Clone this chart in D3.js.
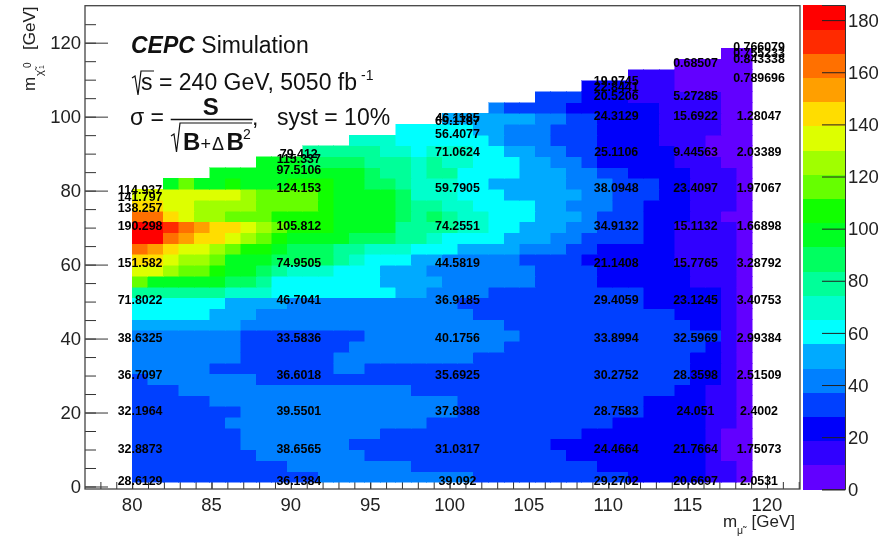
<!DOCTYPE html>
<html><head><meta charset="utf-8">
<script src="https://cdnjs.cloudflare.com/ajax/libs/d3/7.8.5/d3.min.js"></script>
<style>
html,body{margin:0;padding:0;background:#fff}
svg{display:block;font-family:"Liberation Sans",Arial,sans-serif;filter:blur(0.45px)}
</style></head><body>
<svg id="c" width="889" height="538"></svg>
<script>
// colour bands, low to high
const palette = ["#6200ff","#3000ff","#0000fa","#0040ff","#0080ff","#00aaff","#00ffff","#00ffcc","#00ff99","#00ff60",
                 "#00ff22","#11ff00","#66ff00","#a0ff00","#ddff00","#ffdd00","#ff9f00","#ff7000","#ff2a00","#ff0000"];
const zMax = 185.8;
const zTicks = [0,20,40,60,80,100,120,140,160,180];
const xMajor = [80,85,90,95,100,105,110,115,120];
const yMajor = [0,20,40,60,80,100,120];
// heat map rows, bottom to top: runs of [last column, z]; null = empty
const zRows = [
[[11,33],[21,42],[31,33],[36,23],[38,14],[39,5]],
[[9,33],[17,42],[29,33],[36,23],[38,14],[39,5]],
[[7,33],[14,42],[27,33],[36,23],[37,14],[39,5]],
[[6,33],[13,42],[26,33],[36,23],[37,14],[39,5]],
[[6,33],[15,42],[28,33],[36,23],[37,14],[39,5]],
[[5,33],[18,42],[30,33],[36,23],[38,14],[39,5]],
[[6,33],[20,42],[32,33],[36,23],[38,14],[39,5]],
[[4,33],[20,42],[32,33],[36,23],[38,14],[39,5]],
[[2,33],[17,42],[34,33],[36,23],[38,14],[39,5]],
[[0,33],[7,42],[35,33],[37,23],[38,14],[39,5]],
[[4,42],[12,33],[14,42],[35,33],[37,23],[38,14],[39,5]],
[[6,42],[12,33],[21,42],[35,33],[37,23],[38,14],[39,5]],
[[6,42],[13,33],[23,42],[36,33],[37,23],[38,14],[39,5]],
[[6,42],[14,33],[24,42],[37,33],[38,14],[39,5]],
[[6,51],[23,42],[35,33],[37,23],[38,14],[39,5]],
[[4,60],[7,51],[21,42],[34,33],[37,23],[38,14],[39,5]],
[[5,60],[9,51],[20,42],[32,33],[37,23],[38,14],[39,5]],
[[5,79],[8,70],[16,60],[18,51],[22,42],[32,33],[37,23],[38,14],[39,5]],
[[0,116],[5,98],[7,88],[8,79],[15,60],[19,51],[25,42],[29,33],[35,23],[38,14],[39,5]],
[[1,135],[2,126],[4,116],[5,107],[7,98],[8,88],[9,79],[12,70],[15,60],[18,51],[25,42],[29,33],[35,23],[38,14],[39,5]],
[[1,144],[2,135],[4,126],[5,116],[8,98],[12,88],[13,79],[14,70],[17,60],[19,51],[24,42],[28,33],[34,23],[38,14],[39,5]],
[[0,163],[1,153],[2,144],[4,135],[5,126],[6,116],[8,107],[9,98],[12,88],[14,79],[17,70],[20,60],[24,51],[27,42],[29,33],[34,23],[38,14],[39,5]],
[[1,181],[2,163],[3,153],[5,144],[6,135],[7,126],[8,116],[9,107],[13,98],[16,88],[18,79],[19,70],[23,60],[26,51],[28,42],[32,33],[34,23],[38,14],[39,5]],
[[1,181],[2,172],[3,163],[4,153],[6,144],[7,135],[8,126],[9,116],[12,107],[16,98],[20,79],[22,70],[24,60],[27,51],[29,42],[32,33],[34,23],[38,14],[39,5]],
[[1,163],[2,144],[3,135],[5,126],[8,116],[12,107],[16,98],[17,88],[18,79],[19,88],[20,79],[22,70],[25,60],[28,51],[29,42],[32,33],[35,23],[37,14],[39,5]],
[[1,144],[3,135],[7,126],[11,116],[12,107],[16,98],[17,88],[19,79],[21,70],[25,60],[27,51],[30,42],[32,33],[35,23],[38,14],[39,5]],
[[6,135],[7,126],[11,116],[12,107],[16,98],[17,88],[20,70],[23,60],[28,51],[30,42],[33,33],[35,23],[38,14],[39,5]],
[[1,null],[2,98],[3,116],[5,98],[6,107],[9,98],[12,107],[14,98],[16,88],[17,79],[20,70],[22,60],[27,51],[30,42],[33,33],[35,23],[38,14],[39,5]],
[[4,null],[14,98],[15,88],[17,79],[18,70],[20,79],[24,60],[27,51],[29,42],[31,33],[35,23],[38,14],[39,5]],
[[7,null],[10,98],[14,88],[17,79],[18,70],[19,79],[21,70],[24,60],[26,51],[28,42],[29,33],[34,23],[37,14],[39,5]],
[[10,null],[15,79],[17,70],[18,60],[21,70],[23,60],[25,51],[27,42],[29,33],[34,23],[36,14],[39,5]],
[[13,null],[16,70],[22,60],[23,51],[26,42],[29,33],[33,23],[36,14],[39,5]],
[[16,null],[21,60],[23,51],[26,42],[29,33],[33,23],[37,14],[39,5]],
[[19,null],[25,51],[27,42],[29,33],[33,23],[37,14],[39,5]],
[[22,null],[23,42],[27,33],[33,23],[37,14],[39,5]],
[[25,null],[28,33],[31,23],[37,14],[39,5]],
[[28,null],[31,23],[34,14],[39,5]],
[[31,null],[34,14],[39,5]],
[[34,null],[39,5]],
[[37,null],[39,5]]
];
const colStart = 80, colWidth = 0.977, rowStart = 1.1, rowHeight = 2.935;
// printed significance values: x of each column of labels, then y and text
const labelX = [80.5,90.5,100.5,110.5,115.5,119.5];
const labelY = [
 [1.5,10.3,20.5,30.2,40.2,50.4,60.5,70.5,75.5,78.4,80.2],
 [1.5,10.3,20.5,30.2,40.2,50.4,60.5,70.5,80.7,85.6,88.7,89.9],
 [1.5,10.3,20.5,30.2,40.2,50.4,60.5,70.5,80.7,90.4,95.5,98.9,99.6],
 [1.5,10.3,20.5,30.2,40.2,50.4,60.5,70.5,80.7,90.4,100.3,105.6,108.1,109.7],
 [1.5,10.3,20.5,30.2,40.2,50.4,60.5,70.5,80.7,90.4,100.3,105.6,114.7],
 [1.5,10.3,20.5,30.2,40.2,50.4,60.5,70.5,80.7,90.4,100.3,110.4,115.6,117.2,119]
];
const labelText = [
 ["28.6129","32.8873","32.1964","36.7097","38.6325","71.8022","151.582","190.298","138.257","141.797","114.937"],
 ["36.1384","38.6565","39.5501","36.6018","33.5836","46.7041","74.9505","105.812","124.153","97.5106","115.337","79.412"],
 ["39.092","31.0317","37.8388","35.6925","40.1756","36.9185","44.5819","74.2551","59.7905","71.0624","56.4077","69.1787","46.1185"],
 ["29.2702","24.4664","28.7583","30.2752","33.8994","29.4059","21.1408","34.9132","38.0948","25.1106","24.3129","20.5206","22.8441","19.9745"],
 ["20.6697","21.7664","24.051","28.3598","32.5969","23.1245","15.7765","15.1132","23.4097","9.44563","15.6922","5.27285","0.68507"],
 ["2.0531","1.75073","2.4002","2.51509","2.99384","3.40753","3.28792","1.66898","1.97067","2.03389","1.28047","0.789696","0.843338","0.755233","0.766079"]
];

const svg = d3.select("#c");
const x = d3.scaleLinear().domain([77.03,122.08]).range([85,800]);
const y = d3.scaleLinear().domain([-0.68,130]).range([489,5.7]);
const zy = d3.scaleLinear().domain([0,zMax]).range([489.3,5]);
const color = d3.scaleQuantize().domain([0,zMax]).range(palette);
const ink = "#333";

// axes below the cells
function ticks(axis, len){
  const g = svg.append("g").call(axis.tickSize(len).tickFormat(""));
  g.select(".domain").remove();
  g.selectAll("line").attr("stroke",ink).attr("stroke-width",1);
  return g;
}
ticks(d3.axisBottom(x).tickValues(d3.range(78,123)),-7).attr("transform","translate(0,489)");
ticks(d3.axisBottom(x).tickValues(xMajor),-14).attr("transform","translate(0,489)");
ticks(d3.axisLeft(y).tickValues(d3.range(0,130,5)),-11).attr("transform","translate(85,0)");
ticks(d3.axisLeft(y).tickValues(yMajor),-23).attr("transform","translate(85,0)");

// cells
const cells = [];
zRows.forEach((runs,r)=>{ let c=0; runs.forEach(([last,z])=>{ for(;c<=last;c++) if(z!==null) cells.push({c,r,z}); }); });
svg.append("g").attr("shape-rendering","crispEdges").selectAll("rect").data(cells).join("rect")
  .attr("x",d=>x(colStart+d.c*colWidth))
  .attr("y",d=>y(rowStart+(d.r+1)*rowHeight))
  .attr("width",d=>x(colStart+(d.c+1)*colWidth)-x(colStart+d.c*colWidth))
  .attr("height",d=>y(rowStart+d.r*rowHeight)-y(rowStart+(d.r+1)*rowHeight))
  .attr("fill",d=>color(d.z))
  .attr("stroke",d=>color(d.z)).attr("stroke-width",0.5);

// frame
svg.append("rect").attr("x",85).attr("y",5.7).attr("width",715).attr("height",483.3)
  .attr("fill","none").attr("stroke","#444").attr("stroke-width",1.3);

// cell labels
const labelG = svg.append("g").attr("font-size",12.4).attr("font-weight","bold").attr("fill","#000").attr("text-anchor","middle");
labelX.forEach((lx,i)=>labelText[i].forEach((t,j)=>{
  labelG.append("text").attr("x",x(lx)).attr("y",y(labelY[i][j])+4.3).text(t);
}));

// tick labels
const tickFont = 18.5;
svg.append("g").selectAll("text").data(xMajor).join("text")
  .attr("x",d=>x(d)).attr("y",510.5).attr("text-anchor","middle").attr("font-size",tickFont).attr("fill","#222").text(d=>d);
svg.append("g").selectAll("text").data(yMajor).join("text")
  .attr("x",81).attr("y",d=>y(d)+6.5).attr("text-anchor","end").attr("font-size",tickFont).attr("fill","#222").text(d=>d);

// colour bar
const bandStep = zMax/palette.length;
svg.append("g").attr("shape-rendering","crispEdges").selectAll("rect").data(palette).join("rect")
  .attr("x",803).attr("width",42)
  .attr("y",(d,i)=>zy((i+1)*bandStep)).attr("height",(d,i)=>zy(i*bandStep)-zy((i+1)*bandStep)+0.3)
  .attr("fill",d=>d);
const zAxis = svg.append("g").attr("transform","translate(845,0)")
  .call(d3.axisRight(zy).tickValues(zTicks).tickSize(-23).tickPadding(26));
zAxis.selectAll("line").attr("stroke","#222").attr("stroke-width",1);
zAxis.select(".domain").attr("stroke","#333").attr("stroke-width",1);
zAxis.selectAll("text").attr("font-size",tickFont).attr("font-family","inherit").attr("fill","#222")
  .attr("x",3).attr("text-anchor","start").attr("dy","0.33em");

// axis titles
const ty = svg.append("g").attr("transform","translate(35,91) rotate(-90)").attr("fill","#222");
ty.append("text").attr("font-size",17).text("m");
ty.append("text").attr("x",15).attr("y",8).attr("font-size",11).text("χ̃");
ty.append("text").attr("x",22).attr("y",9).attr("font-size",7).text("1");
ty.append("text").attr("x",23).attr("y",-4).attr("font-size",10).text("0");
ty.append("text").attr("x",41).attr("font-size",17).text("[GeV]");
const tx = svg.append("g").attr("fill","#222");
tx.append("text").attr("x",723).attr("y",527).attr("font-size",17).text("m");
tx.append("text").attr("x",737).attr("y",534).attr("font-size",10.5).text("μ̃");
tx.append("text").attr("x",751.5).attr("y",527).attr("font-size",17).text("[GeV]");

// annotation
const ann = svg.append("g").attr("fill","#111").attr("font-size",23);
const l1 = ann.append("text").attr("x",131).attr("y",52.5);
l1.append("tspan").attr("font-weight","bold").attr("font-style","italic").text("CEPC");
l1.append("tspan").text(" Simulation");
ann.append("path").attr("d","M132 78 L135 76 L138 95 L141 71 L154 71").attr("fill","none").attr("stroke","#111").attr("stroke-width",1.2);
ann.append("text").attr("x",141).attr("y",90).text("s");
ann.append("text").attr("x",159).attr("y",90).text("= 240 GeV, 5050 fb");
ann.append("text").attr("x",361).attr("y",80).attr("font-size",14).text("-1");
ann.append("text").attr("x",130).attr("y",125).text("σ =");
ann.append("text").attr("x",210.7).attr("y",115).attr("text-anchor","middle").attr("font-weight","bold").attr("font-size",24).text("S");
ann.append("line").attr("x1",170.7).attr("x2",252.7).attr("y1",119.5).attr("y2",119.5).attr("stroke","#111").attr("stroke-width",1.6);
ann.append("path").attr("d","M171 136 L174 134 L176.5 152 L180 123 L252 123").attr("fill","none").attr("stroke","#111").attr("stroke-width",1.2);
ann.append("text").attr("x",183).attr("y",150).attr("font-weight","bold").attr("font-size",24).text("B");
ann.append("text").attr("x",200.5).attr("y",150).attr("font-size",18).text("+");
ann.append("text").attr("x",212).attr("y",150).attr("font-size",18).text("Δ");
ann.append("text").attr("x",226.5).attr("y",150).attr("font-weight","bold").attr("font-size",24).text("B");
ann.append("text").attr("x",243).attr("y",139).attr("font-size",14).text("2");
ann.append("text").attr("x",252).attr("y",125).text(",");
ann.append("text").attr("x",277).attr("y",125).text("syst = 10%");
</script>
</body></html>
